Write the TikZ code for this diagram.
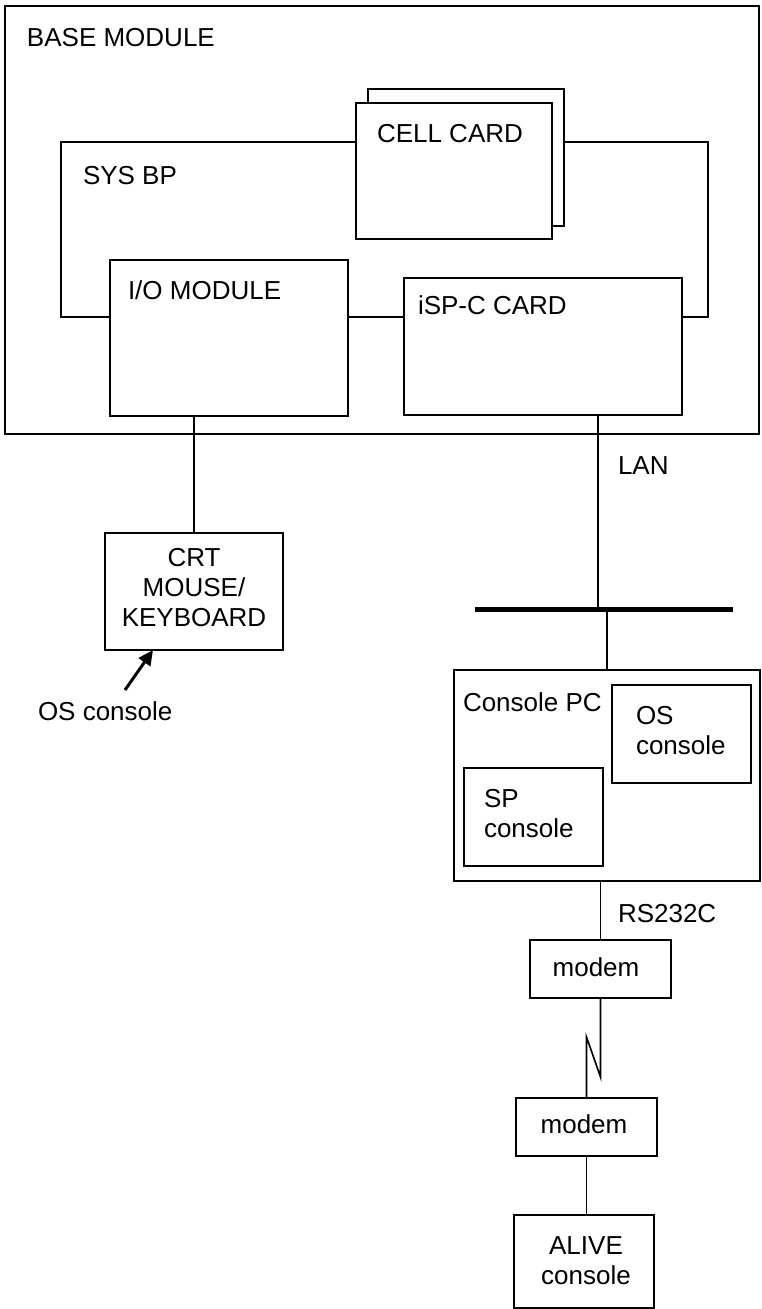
\documentclass[tikz,border=0pt]{standalone}
\usepackage{fontspec}
\setmainfont{Liberation Sans}
\usetikzlibrary{arrows.meta}
\begin{document}
\begin{tikzpicture}[x=1pt,y=-1pt,
  box/.style={draw,line width=1.6pt,fill=white,inner sep=0pt,outer sep=0pt,anchor=north west},
  txt/.style={inner sep=0pt,outer sep=0pt,font=\fontsize{26}{30}\selectfont},
  ln/.style={line width=1.6pt}]
\useasboundingbox (0,0) rectangle (762,1309);
% boxes
\node[box,minimum width=754pt,minimum height=428pt] (base) at (5,6) {};
\node[box,fill=none,minimum width=647pt,minimum height=175pt] (sysbp) at (61,142) {};
\node[box,minimum width=196pt,minimum height=137pt] (cellback) at (368,89) {};
\node[box,line width=1.9pt,minimum width=196pt,minimum height=136pt] (cell) at (356,103) {};
\node[box,minimum width=238pt,minimum height=156pt] (io) at (110,260) {};
\node[box,line width=2.5pt,minimum width=278pt,minimum height=137pt] (isp) at (404,278) {};
\node[box,minimum width=178pt,minimum height=117pt] (crt) at (105,533) {};
\node[box,draw=none,fill=black,minimum width=258pt,minimum height=5pt] (bus) at (475,607) {};
\node[box,minimum width=306pt,minimum height=211pt] (pc) at (454,670) {};
\node[box,minimum width=139pt,minimum height=98pt] (os) at (612,685) {};
\node[box,minimum width=139pt,minimum height=98pt] (sp) at (464,768) {};
\node[box,minimum width=141pt,minimum height=58pt] (m1) at (530,940) {};
\node[box,minimum width=141pt,minimum height=58pt] (m2) at (516,1098) {};
\node[box,minimum width=140pt,minimum height=93pt] (alive) at (514,1215) {};
% connectors
\coordinate (lanx) at (598,0);
\draw[ln] (crt.north) -- (crt.north |- io.south);
\draw[ln] (isp.south -| lanx) -- (bus.north -| lanx);
\draw[ln] (pc.north) -- (pc.north |- bus.south);
\draw[ln] (m1.north) -- (m1.north |- pc.south);
\draw[ln] (m1.south) -- ++(0,79) -- ++(-14,-40) -- (m2.north);
\draw[ln] (m2.south) -- (m2.south |- alive.north);
\coordinate (tip) at (153,650);
\coordinate (tail) at (125,690);
\draw[line width=3pt,-{Triangle[length=15pt,width=14pt]}] (tail) -- (tip);
% texts
\node[txt,anchor=base west] (t1) at (27,46) {BASE MODULE};
\node[txt,anchor=base west] (t2) at (83,184) {SYS BP};
\node[txt,anchor=base west] (t3) at (377,142) {CELL CARD};
\node[txt,anchor=base west] (t4) at (128,299) {I/O MODULE};
\node[txt,anchor=base west] (t5) at (418,314) {iSP-C CARD};
\node[txt,anchor=north,align=center] (t6) at (194,548) {CRT\\MOUSE/\\KEYBOARD};
\node[txt,anchor=base west] (t7) at (38,720) {OS console};
\node[txt,anchor=base west] (t8) at (618,474) {LAN};
\node[txt,anchor=base west] (t9) at (463,711) {Console PC};
\node[txt,anchor=north west,align=left] (t10) at (636,706) {OS\\console};
\node[txt,anchor=north west,align=left] (t11) at (484,789) {SP\\console};
\node[txt,anchor=base west] (t12) at (618,922) {RS232C};
\node[txt,anchor=base] (t13) at (596,976) {modem};
\node[txt,anchor=base] (t14) at (584,1133) {modem};
\node[txt,anchor=north,align=center] (t15) at (586,1237) {ALIVE\\console};
\end{tikzpicture}
\end{document}
